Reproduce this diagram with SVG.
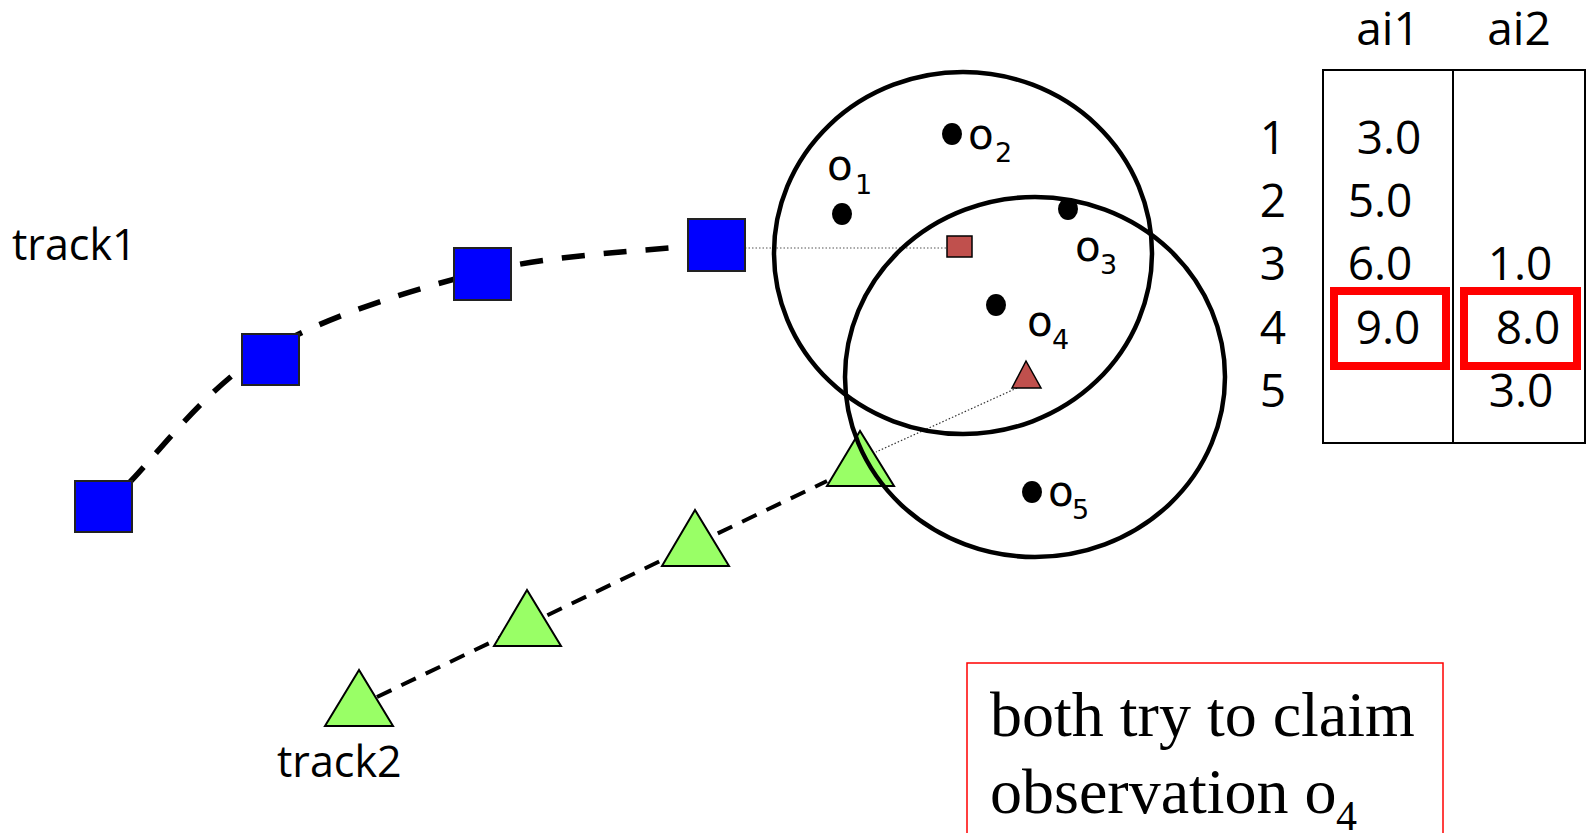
<svg xmlns="http://www.w3.org/2000/svg" width="1591" height="833" viewBox="0 0 1591 833">
<style>
.sq{fill:#0000FF;stroke:#222;stroke-width:2}
.tri{fill:#99FF66;stroke:#000;stroke-width:2;stroke-linejoin:miter}
.pred{fill:#C0504D;stroke:#000;stroke-width:1.5}
.ring{fill:none;stroke:#000;stroke-width:4.5}
.dot{fill:#000}
.lbl{font-family:"Open Sans","Liberation Sans",sans-serif;fill:#000}
.ob{font-family:"DejaVu Sans","Liberation Sans",sans-serif;fill:#000;font-size:42px}
.sub{font-size:27px}
.tb{font-family:"Open Sans","Liberation Sans",sans-serif;font-size:46px;fill:#000}
.hl{fill:none;stroke:#FF0000;stroke-width:8}
.note{font-family:"Liberation Serif","Times New Roman",serif;font-size:64px;fill:#000}
</style>
<rect width="1591" height="833" fill="#fff"/>
<g id="connectors">
<path d="M128,484 C150.8,462 206,387.3 265,352 C324,316.7 411.2,289.7 482,272 C552.8,254.3 655.3,250.3 690,246" fill="none" stroke="#000" stroke-width="5.5" stroke-dasharray="23 19"/>
<path d="M377,697 L827,481" fill="none" stroke="#000" stroke-width="4" stroke-dasharray="16 11"/>
<path d="M745,248 L947,248" fill="none" stroke="#555" stroke-width="1.2" stroke-dasharray="1.5 2"/>
<path d="M1017,388 L876,452" fill="none" stroke="#333" stroke-width="1.2" stroke-dasharray="1.5 2"/>
</g>
<g id="track1">
<text class="lbl" x="12" y="260" font-size="43">track1</text>
<rect class="sq" x="75" y="481" width="57" height="51"/>
<rect class="sq" x="242" y="334" width="57" height="51"/>
<rect class="sq" x="454" y="248" width="57" height="52"/>
<rect class="sq" x="688" y="219" width="57" height="52"/>
</g>
<g id="track2">
<text class="lbl" x="277" y="777" font-size="43">track2</text>
<polygon class="tri" points="359,670 325,726 393,726"/>
<polygon class="tri" points="527,590 494,646 561,646"/>
<polygon class="tri" points="695,510 662,566 729,566"/>
<polygon class="tri" points="860,431 827,486 894,486"/>
</g>
<g id="predictions">
<rect class="pred" x="947" y="236" width="25" height="21"/>
<polygon class="pred" points="1026,361 1012,388 1041,388"/>
</g>
<g id="gates">
<ellipse class="ring" cx="963" cy="253" rx="189" ry="181"/>
<ellipse class="ring" cx="1035" cy="377" rx="190" ry="180"/>
</g>
<g id="observations">
<ellipse class="dot" cx="842" cy="214" rx="10" ry="11"/>
<ellipse class="dot" cx="952" cy="134" rx="10" ry="11"/>
<ellipse class="dot" cx="1068" cy="209" rx="10" ry="11"/>
<ellipse class="dot" cx="996" cy="305" rx="10" ry="11"/>
<ellipse class="dot" cx="1032" cy="492" rx="10" ry="11"/>
<text class="ob"><tspan x="827" y="180">o</tspan><tspan class="sub" x="855" y="194">1</tspan></text>
<text class="ob"><tspan x="968" y="149">o</tspan><tspan class="sub" x="995" y="162">2</tspan></text>
<text class="ob"><tspan x="1075" y="261">o</tspan><tspan class="sub" x="1100" y="274">3</tspan></text>
<text class="ob"><tspan x="1027" y="336">o</tspan><tspan class="sub" x="1052" y="349">4</tspan></text>
<text class="ob"><tspan x="1048" y="506">o</tspan><tspan class="sub" x="1072" y="519">5</tspan></text>
</g>
<g id="table">
<rect x="1323" y="70" width="262" height="373" fill="none" stroke="#000" stroke-width="2"/>
<line x1="1453" y1="70" x2="1453" y2="443" stroke="#000" stroke-width="2"/>
<text class="tb" x="1388" y="45" text-anchor="middle">ai1</text>
<text class="tb" x="1519" y="45" text-anchor="middle">ai2</text>
<g text-anchor="middle">
<text class="tb" x="1273" y="154">1</text>
<text class="tb" x="1273" y="217">2</text>
<text class="tb" x="1273" y="280">3</text>
<text class="tb" x="1273" y="344">4</text>
<text class="tb" x="1273" y="407">5</text>
<text class="tb" x="1389" y="154">3.0</text>
<text class="tb" x="1380" y="217">5.0</text>
<text class="tb" x="1380" y="280">6.0</text>
<text class="tb" x="1388" y="344">9.0</text>
<text class="tb" x="1520" y="280">1.0</text>
<text class="tb" x="1528" y="344">8.0</text>
<text class="tb" x="1521" y="407">3.0</text>
</g>
<rect class="hl" x="1334" y="291" width="112" height="75"/>
<rect class="hl" x="1464" y="291" width="113" height="75"/>
</g>
<g id="note">
<rect x="967" y="663" width="476" height="180" fill="none" stroke="#FF0000" stroke-width="1.5"/>
<text class="note" x="990" y="736">both try to claim</text>
<text class="note"><tspan x="990" y="813">observation o</tspan><tspan x="1336" y="830" font-size="42">4</tspan></text>
</g>
</svg>
